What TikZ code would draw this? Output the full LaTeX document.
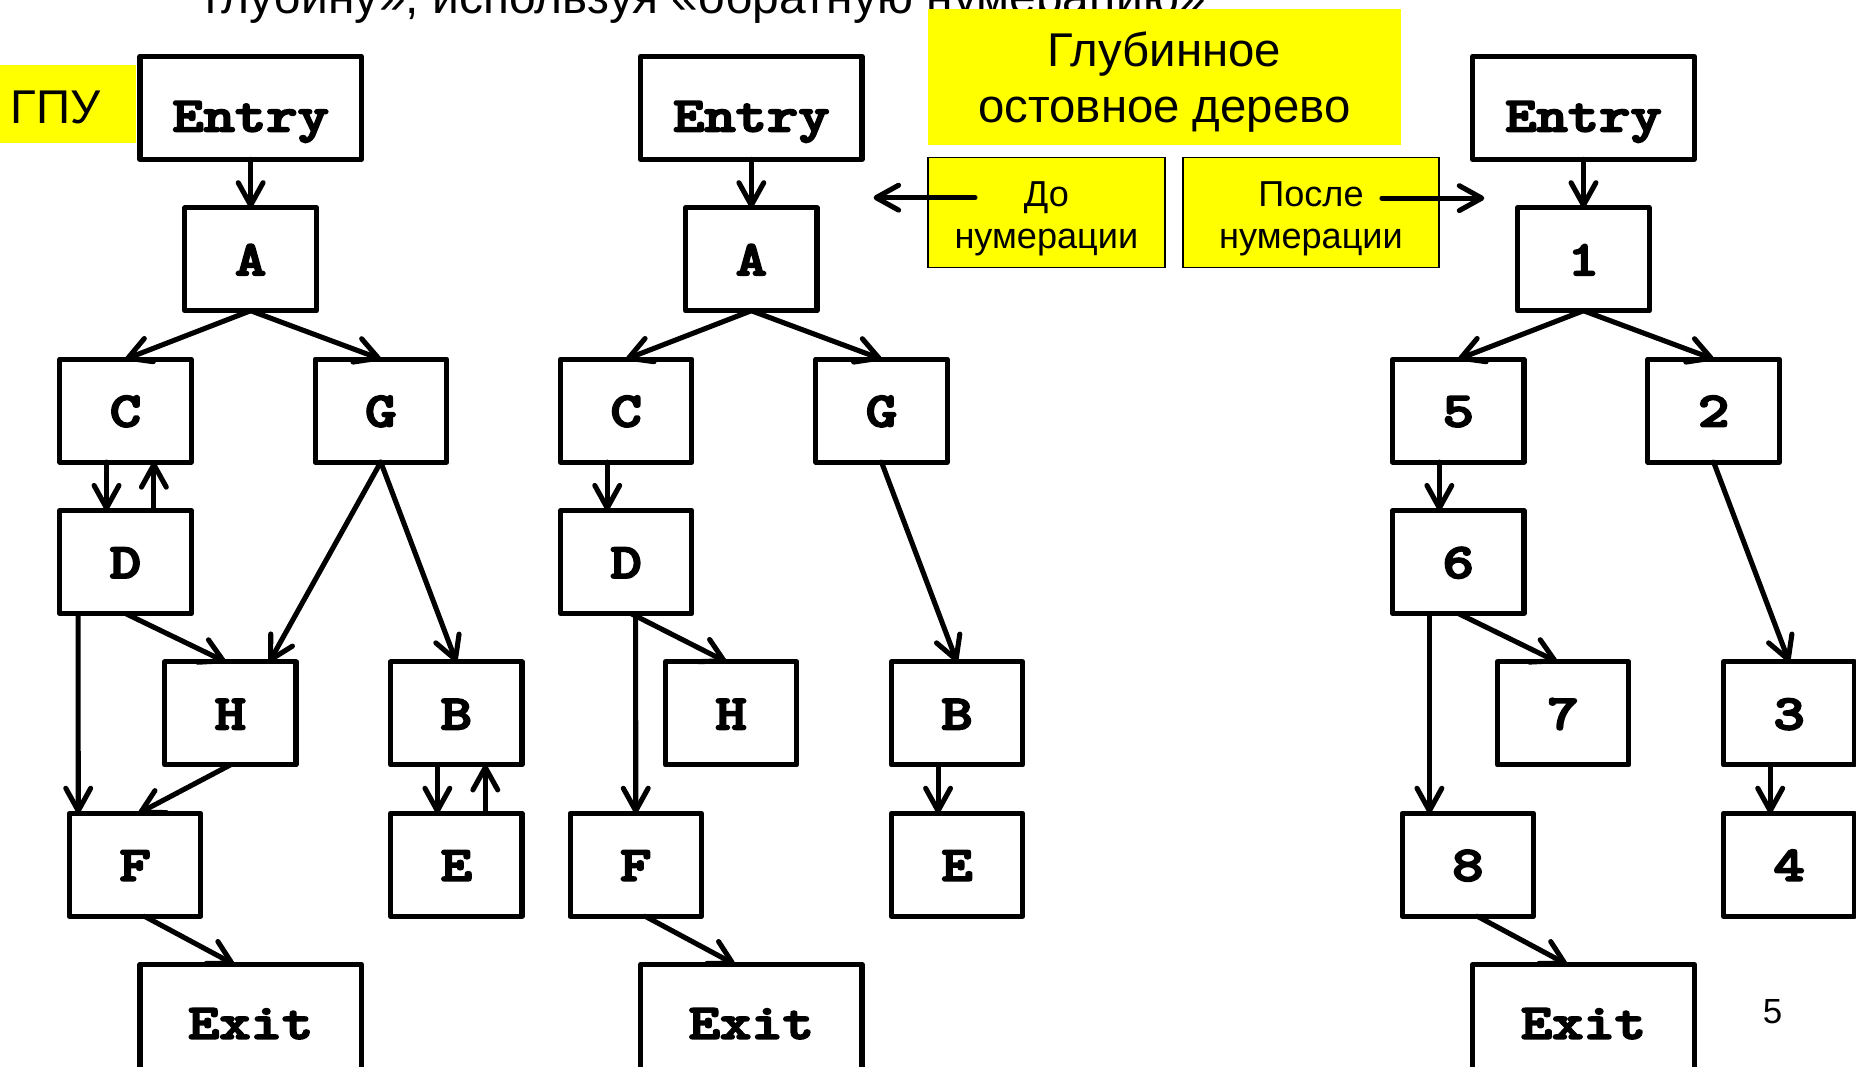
\documentclass[tikz,border=0pt]{standalone}
\usepackage{fontspec}
\newfontfamily\arialf{Liberation Sans}
\newfontfamily\courf{lmmonolt10-bold}[Extension=.otf, FakeBold=3.5]
\usetikzlibrary{arrows.meta}
\definecolor{hlyellow}{RGB}{255,255,0}
\newcommand\monowide[1]{\scalebox{1.2}[1]{#1}}
\begin{document}
\begin{tikzpicture}[x=1pt,y=-1pt,
  cfgbox/.style={draw, line width=4.3pt, line join=round, minimum width=111pt, minimum height=87pt,
    inner sep=0pt, outer sep=0pt, text height=27pt, text depth=0pt,
    font=\courf\fontsize{42}{42}\selectfont},
  entrybox/.style={cfgbox, minimum width=187pt, text height=40pt},
  exitbox/.style={cfgbox, minimum width=187pt, minimum height=95pt, text height=30.7pt},
  arr/.style={line width=4.3pt, line cap=round, -{Straight Barb[length=19pt,width=21pt,round]}},
  hlbox/.style={fill=hlyellow, inner sep=0pt, outer sep=0pt, align=center},
  notebox/.style={hlbox, draw=black, line width=1.3pt, minimum width=200pt, minimum height=93pt,
    font=\arialf\fontsize{30.5}{35.8}\selectfont},
]
\useasboundingbox (0,0) rectangle (1568,901.4);

% top cut-off text
\node[anchor=base west, inner sep=0pt, font=\arialf\fontsize{40.5}{47}\selectfont] (toptext) at (173,11.5)
  {глубину», используя «обратную нумерацию»};

% yellow labels
\node[hlbox, anchor=north west, minimum width=114.8pt, minimum height=65.9pt, text width=96.8pt,
  inner xsep=9pt, align=left, text height=33pt, text depth=0pt,
  font=\arialf\fontsize{40}{47}\selectfont] (gpu) at (0,54.9) {ГПУ};
\node[hlbox, minimum width=399.6pt, minimum height=114.9pt,
  font=\arialf\fontsize{40}{47.3}\selectfont] (dst) at (983.8,65.05)
  {\rule{0pt}{38.5pt}Глубинное\\остовное дерево};
\node[notebox] (before) at (884,179.5) {\rule{0pt}{31.5pt}До\\нумерации};
\node[notebox, minimum width=215.9pt] (after) at (1107.55,179.5) {\rule{0pt}{31.5pt}После\\нумерации};
\coordinate (beforeS) at (823.7,167);
\coordinate (beforeT) at (738,167);
\coordinate (afterS) at (1167.5,167.4);
\coordinate (afterT) at (1254,167.4);
\draw[arr] (beforeS) -- (beforeT);
\draw[arr] (afterS) -- (afterT);

% left graph
\node[entrybox] (lEntry) at (211.75,91.1) {\monowide{Entry}};
\node[cfgbox] (lA) at (211.75,219) {\monowide{A}};
\node[cfgbox] (lC) at (106,346.9) {\monowide{C}};
\node[cfgbox] (lG) at (321.7,346.9) {\monowide{G}};
\node[cfgbox] (lD) at (106,474.8) {\monowide{D}};
\node[cfgbox] (lH) at (194.6,602.7) {\monowide{H}};
\node[cfgbox] (lB) at (385.5,602.7) {\monowide{B}};
\node[cfgbox] (lF) at (114.1,730.6) {\monowide{F}};
\node[cfgbox] (lE) at (385.5,730.6) {\monowide{E}};
\node[exitbox] (lExit) at (211.75,862.2) {\monowide{Exit}};

\draw[arr] (lEntry.south) -- (lA.north);
\draw[arr] (lA.south) -- (lC.north);
\draw[arr] (lA.south) -- (lG.north);
\draw[arr] ([xshift=-16pt]lC.south) -- ([xshift=-16pt]lD.north);
\draw[arr] ([xshift=24pt]lD.north) -- ([xshift=24pt]lC.south);
\draw[arr] (lG.south) -- ([xshift=33pt]lH.north);
\draw[arr] (lG.south) -- (lB.north);
\draw[arr] (lD.south) -- ([xshift=-4pt]lH.north);
\draw[arr] ([xshift=-40pt]lD.south) -- ([xshift=-48pt]lF.north);
\draw[arr] (lH.south) -- ([xshift=3pt]lF.north);
\draw[arr] ([xshift=-16pt]lB.south) -- ([xshift=-16pt]lE.north);
\draw[arr] ([xshift=24.5pt]lE.north) -- ([xshift=24.5pt]lB.south);
\draw[arr] ([xshift=8pt]lF.south) -- ([xshift=-14pt]lExit.north);

% middle graph (spanning tree, before numbering)
\node[entrybox] (mEntry) at (634.75,91.1) {\monowide{Entry}};
\node[cfgbox] (mA) at (634.75,219) {\monowide{A}};
\node[cfgbox] (mC) at (529,346.9) {\monowide{C}};
\node[cfgbox] (mG) at (744.7,346.9) {\monowide{G}};
\node[cfgbox] (mD) at (529,474.8) {\monowide{D}};
\node[cfgbox] (mH) at (617.6,602.7) {\monowide{H}};
\node[cfgbox] (mB) at (808.5,602.7) {\monowide{B}};
\node[cfgbox] (mF) at (537.1,730.6) {\monowide{F}};
\node[cfgbox] (mE) at (808.5,730.6) {\monowide{E}};
\node[exitbox] (mExit) at (634.75,862.2) {\monowide{Exit}};

\draw[arr] (mEntry.south) -- (mA.north);
\draw[arr] (mA.south) -- (mC.north);
\draw[arr] (mA.south) -- (mG.north);
\draw[arr] ([xshift=-16pt]mC.south) -- ([xshift=-16pt]mD.north);
\draw[arr] (mG.south) -- (mB.north);
\draw[arr] ([xshift=4pt]mD.south) -- ([xshift=-4pt]mH.north);
\draw[arr] ([xshift=8pt]mD.south) -- (mF.north);
\draw[arr] ([xshift=-16pt]mB.south) -- ([xshift=-16pt]mE.north);
\draw[arr] ([xshift=8pt]mF.south) -- ([xshift=-14pt]mExit.north);

% right graph (after numbering)
\node[entrybox] (rEntry) at (1337.75,91.1) {\monowide{Entry}};
\node[cfgbox] (r1) at (1337.75,219) {\monowide{1}};
\node[cfgbox] (r5) at (1232,346.9) {\monowide{5}};
\node[cfgbox] (r2) at (1447.7,346.9) {\monowide{2}};
\node[cfgbox] (r6) at (1232,474.8) {\monowide{6}};
\node[cfgbox] (r7) at (1320.6,602.7) {\monowide{7}};
\node[cfgbox] (r3) at (1511.5,602.7) {\monowide{3}};
\node[cfgbox] (r8) at (1240.1,730.6) {\monowide{8}};
\node[cfgbox] (r4) at (1511.5,730.6) {\monowide{4}};
\node[exitbox] (rExit) at (1337.75,862.2) {\monowide{Exit}};

\draw[arr] (rEntry.south) -- (r1.north);
\draw[arr] (r1.south) -- (r5.north);
\draw[arr] (r1.south) -- (r2.north);
\draw[arr] ([xshift=-16pt]r5.south) -- ([xshift=-16pt]r6.north);
\draw[arr] (r2.south) -- (r3.north);
\draw[arr] (r6.south) -- ([xshift=-5pt]r7.north);
\draw[arr] ([xshift=-24.4pt]r6.south) -- ([xshift=-32.5pt]r8.north);
\draw[arr] ([xshift=-16pt]r3.south) -- ([xshift=-16pt]r4.north);
\draw[arr] ([xshift=8pt]r8.south) -- ([xshift=-14pt]rExit.north);

% page number
\node[anchor=base, inner sep=0pt, font=\arialf\fontsize{29.5}{30}\selectfont] (pageno) at (1497.5,864.5) {5};
\end{tikzpicture}
\end{document}
